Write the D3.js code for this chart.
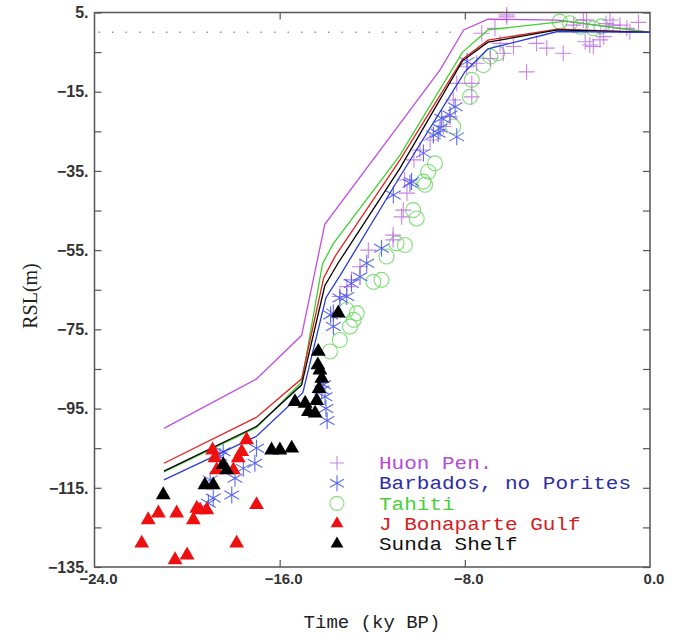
<!DOCTYPE html>
<html><head><meta charset="utf-8">
<script src="https://cdn.jsdelivr.net/npm/d3@7"></script>
<style>body{margin:0;background:#fff}</style>
</head><body>
<svg id="c" width="692" height="637"></svg>
<script>
// ---- data ----
const xTicks = [-24, -16, -8, 0];
const yTicks = [5, -15, -35, -55, -75, -95, -115, -135];
const legendLabels = ["Huon Pen.", "Barbados, no Porites", "Tahiti", "J Bonaparte Gulf", "Sunda Shelf"];

// model curves [time ky, RSL m]
const linePurple = [[-21,-100],[-17,-87.5],[-15.05,-76.5],[-14.05,-48.5],[-9.07,-9.5],[-8.05,0.6],[-7,3.3],[-4,3.1],[0,0]];
const lineGreen  = [[-21,-111],[-17,-99.8],[-15.05,-88.3],[-14.15,-58.5],[-13.7,-53.5],[-10.8,-31],[-8.1,-5],[-7,0.6],[-3.6,2.8],[0,0]];
const lineRed    = [[-21,-108.8],[-17,-97.2],[-15.05,-87.5],[-14.1,-62],[-13.6,-56.5],[-10.8,-32.2],[-8.1,-6.8],[-7,-2],[-4,0.8],[0,0]];
const lineBlack  = [[-21,-110.8],[-17,-99.5],[-15.05,-89],[-14.05,-64],[-13.5,-58.5],[-10.8,-34.3],[-8.1,-7.2],[-7,-2.5],[-4,0.6],[0,0]];
const lineBlue   = [[-21,-113],[-17,-102],[-15.0,-91],[-14.0,-67],[-13.4,-61.5],[-10.8,-36.4],[-8.0,-10],[-7,-4.2],[-4,0.2],[0,0]];

const huon = [[-6.19,3.9],[-6.7,1.0],[-7.27,-0.25],[-6.48,-2.8],[-5.9,-3.6],[-4.9,-2.8],[-4.46,-4],[-3.75,-5.3],[-5.33,-10],
  [-3.3,1.8],[-2.74,3.1],[-2.6,-3.2],[-2.45,-3.6],[-2.16,-1.9],[-2.0,-1.1],[-1.73,3.1],[-1.6,1.8],[-1.3,1.8],[-1.0,1.0],[-0.87,0.15],
  [-6.19,4.4],[-2.88,3.1],[-2.8,-2.4],[-7.92,-8.7],[-7.49,-7.8],[-7.7,-12.9],[-7.7,-16.3],[-8.35,-12.9],[-8.5,-17.1],[-8.64,-21.3],
  [-8.93,-23.8],[-9.5,-27.2],[-9.94,-29.7],[-10.2,-32.2],[-10.6,-37.3],[-6.34,-5.3],[-6.9,-6.6],[-10.5,-40.6],[-10.66,-44.9],
  [-10.73,-46.6],[-11.1,-51.2],[-11.1,-52.4],[-12.17,-55],[-12.53,-59.2],[-12.9,-62.5],[-13.1,-64.2],[-13.4,-66.7],[-0.5,2.5],[-1.9,2.2]];
const barbados = [[-18.44,-105.9],[-17.0,-105],[-17.07,-108.8],[-17.57,-110.1],[-17.93,-112.6],[-19.0,-113],[-18.87,-117.6],
  [-18.07,-116.8],[-19.08,-118.9],[-18.58,-107.1],[-10.37,-38.1],[-11.09,-41.1],[-11.6,-54.5],[-12.24,-58.3],[-12.53,-61.7],
  [-12.9,-63.4],[-13.1,-66.7],[-13.4,-67.1],[-13.68,-70.9],[-13.8,-71.4],[-13.68,-74.3],[-14.18,-90.3],[-14.04,-92],[-14.1,-89],
  [-14.0,-95],[-13.95,-98],[-8.42,-18.8],[-8.64,-20.9],[-9.0,-21.7],[-9.15,-25.5],[-9.36,-25.9],[-8.35,-26.4],[-9.07,-24.2],
  [-9.79,-30.5],[-10.3,-37.7],[-7.9,-7.4]];
const tahiti = [[-9.72,-38.5],[-10.23,-44.9],[-10.08,-47],[-10.95,-53.3],[-10.59,-53.7],[-11.38,-56.6],[-11.6,-62.5],[-11.95,-63],
  [-12.67,-70.9],[-12.8,-72.6],[-12.96,-74.3],[-13.4,-77.7],[-13.83,-80.6],[-13.1,-70.1],[-9.29,-33.1],[-9.58,-35.2],[-9.79,-37.7],
  [-8.5,-23.8],[-7.78,-16.3],[-7.7,-12],[-7.2,-8.3],[-6.9,-6.1],[-6.6,-5.3],[-3.46,2.3],[-3.0,1.4],[-2.45,1.0],[-3.9,2.7],[-2.1,1.5]];
const bonaparte = [[-17.43,-102.9],[-17.64,-105.9],[-17.79,-107.5],[-18.8,-107.5],[-18.72,-110.5],[-18.0,-110.5],[-19.58,-120.2],
  [-19.44,-120.6],[-19.15,-120.6],[-19.73,-123.1],[-20.45,-121.4],[-21.24,-121.4],[-21.68,-123.1],[-21.96,-129.0],[-20.52,-133.2],
  [-20.0,-132],[-17.86,-129],[-17.0,-119.3],[-18.9,-105.5]];
const sunda = [[-21.03,-116.8],[-19.23,-114.3],[-18.87,-114.3],[-18.44,-109.2],[-18.29,-110.5],[-16.35,-105.5],[-15.99,-105.5],
  [-15.48,-105],[-15.34,-93.3],[-14.9,-93.7],[-14.76,-95.8],[-14.47,-96.2],[-14.4,-93],[-14.3,-90],[-14.33,-80.6],[-14.26,-85.3],
  [-14.18,-87.4],[-14.35,-84],[-13.47,-70.9]];

// ---- chart ----
const svg = d3.select("#c");
const x = d3.scaleLinear().domain([-24, 0]).range([94.5, 650]);
const y = d3.scaleLinear().domain([-135, 5]).range([567, 12.5]);
const fmtY = d => (d < 0 ? "\u2212" : "") + Math.abs(d) + ".";
const fmtX = d => (d < 0 ? "\u2212" : "") + Math.abs(d).toFixed(1);

const frameCol = "#555";
// dotted zero line
svg.append("line").attr("x1", x(-24)+4).attr("x2", x(-8.4)).attr("y1", y(0)).attr("y2", y(0))
  .attr("stroke", "#999").attr("stroke-width", 1.4).attr("stroke-dasharray", "1.5,12");

// axes (ticks inward)
const yMinor = d3.range(-135, 6, 10);
const styleTicks = g => { g.select(".domain").remove(); g.selectAll("line").attr("stroke", frameCol).attr("stroke-width", 1.2); };
svg.append("g").attr("transform", `translate(${x(-24)},0)`)
  .call(d3.axisLeft(y).tickValues(yMinor).tickSize(-7).tickFormat("")).call(styleTicks);
svg.append("g").attr("transform", `translate(${x(0)},0)`)
  .call(d3.axisRight(y).tickValues(yMinor).tickSize(-7).tickFormat("")).call(styleTicks);
svg.append("g").attr("transform", `translate(0,${y(-135)})`)
  .call(d3.axisBottom(x).tickValues([-16, -8]).tickSize(-7).tickFormat("")).call(styleTicks);
svg.append("g").attr("transform", `translate(0,${y(5)})`)
  .call(d3.axisTop(x).tickValues([-16, -8]).tickSize(-7).tickFormat("")).call(styleTicks);

// tick labels
svg.append("g").selectAll("text").data(yTicks).join("text")
  .attr("x", x(-24) - 6).attr("y", d => y(d)).attr("dy", "0.36em").attr("text-anchor", "end")
  .attr("font-family", "Liberation Sans, Arial, sans-serif").attr("font-size", 16).attr("fill", "#333")
  .attr("font-weight", "bold").text(fmtY);
svg.append("g").selectAll("text").data(xTicks).join("text")
  .attr("x", d => x(d) + 4).attr("y", y(-135) + 17).attr("text-anchor", "middle")
  .attr("font-family", "Liberation Sans, Arial, sans-serif").attr("font-size", 15).attr("fill", "#333")
  .attr("font-weight", "bold").text(fmtX);

// axis titles
svg.append("text").attr("x", 372).attr("y", 628).attr("text-anchor", "middle")
  .attr("font-family", "Liberation Mono, monospace").attr("font-size", 19).attr("fill", "#222").text("Time (ky BP)");
svg.append("text").attr("transform", `translate(37,296) rotate(-90)`).attr("text-anchor", "middle")
  .attr("font-family", "Liberation Serif, serif").attr("font-size", 20).attr("fill", "#222").text("RSL(m)");

const plot = svg.append("g");
const line = d3.line().x(d => x(d[0])).y(d => y(d[1]));

// markers
const colPlus = "#c070e0", colAst = "#4a5ae8", colCirc = "#6ad860", colRed = "#ee1010", colBlack = "#000";
function plus(g, pts, s) {
  g.selectAll(null).data(pts).join("path")
    .attr("d", d => `M${x(d[0])-s},${y(d[1])}h${2*s}M${x(d[0])},${y(d[1])-s}v${2*s}`)
    .attr("stroke", colPlus).attr("stroke-width", 1.1).attr("fill", "none").attr("opacity", 0.85);
}
function asterisk(g, pts, s) {
  g.selectAll(null).data(pts).join("path")
    .attr("d", d => {
      const cx = x(d[0]), cy = y(d[1]); let p = "";
      for (const a of [90, 30, 150]) {
        const r = a * Math.PI / 180, dx = s * Math.cos(r), dy = s * Math.sin(r);
        p += `M${cx-dx},${cy-dy}L${cx+dx},${cy+dy}`;
      }
      return p;
    })
    .attr("stroke", colAst).attr("stroke-width", 1.1).attr("fill", "none").attr("opacity", 0.9);
}
function circles(g, pts, r) {
  g.selectAll(null).data(pts).join("circle")
    .attr("cx", d => x(d[0])).attr("cy", d => y(d[1])).attr("r", r)
    .attr("stroke", colCirc).attr("stroke-width", 1.1).attr("fill", "none").attr("opacity", 0.85);
}
function tris(g, pts, col, size) {
  g.selectAll(null).data(pts).join("path")
    .attr("transform", d => `translate(${x(d[0])},${y(d[1])})`)
    .attr("d", d3.symbol(d3.symbolTriangle, size)).attr("fill", col);
}

circles(plot, tahiti, 7.5);
plus(plot, huon, 8);
asterisk(plot, barbados, 8.5);

// model lines
[[linePurple, "#c050e0"], [lineGreen, "#40d030"], [lineRed, "#e02020"], [lineBlack, "#000"], [lineBlue, "#2a3ad8"]]
  .forEach(([pts, c]) => plot.append("path").attr("d", line(pts)).attr("fill", "none").attr("stroke", c).attr("stroke-width", 1.3));

tris(plot, bonaparte, colRed, 95);
tris(plot, sunda, colBlack, 95);

// frame
svg.append("rect").attr("x", x(-24)).attr("y", y(5)).attr("width", x(0) - x(-24)).attr("height", y(-135) - y(5))
  .attr("fill", "none").attr("stroke", frameCol).attr("stroke-width", 1.5);

// legend
const lg = svg.append("g");
const lx = 337, ly0 = 463, ldy = 20.2;
const textCols = ["#b848d8", "#2c2ca8", "#48d038", "#d42020", "#111"];
legendLabels.forEach((t, i) => {
  lg.append("text").attr("x", 379).attr("y", ly0 + i * ldy).attr("dy", "0.35em")
    .attr("font-family", "Liberation Mono, monospace").attr("font-size", 17.5).attr("fill", textCols[i])
    .attr("textLength", t.length * 12.6).attr("lengthAdjust", "spacingAndGlyphs").text(t);
});
const lgx = x.invert(lx);
plus(lg, [[lgx, y.invert(ly0)]], 7);
asterisk(lg, [[lgx, y.invert(ly0 + ldy)]], 8);
circles(lg, [[lgx, y.invert(ly0 + 2 * ldy)]], 7);
tris(lg, [[lgx, y.invert(ly0 + 3 * ldy)]], colRed, 70);
tris(lg, [[lgx, y.invert(ly0 + 4 * ldy)]], colBlack, 70);
</script>
</body></html>
